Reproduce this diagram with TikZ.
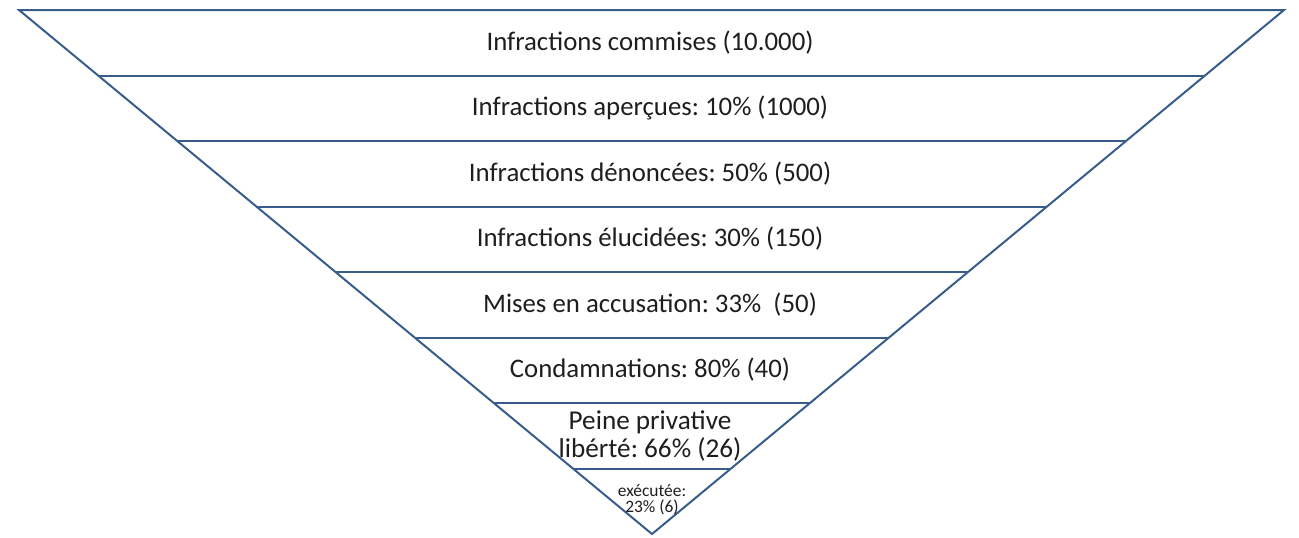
\documentclass[tikz,border=0pt]{standalone}
\usepackage{fontspec}
\setmainfont{Carlito}
\usetikzlibrary{calc}
\definecolor{funnelblue}{RGB}{56,93,138}
\definecolor{labelgray}{RGB}{30,30,30}
\frenchspacing

\begin{document}
\begin{tikzpicture}[x=0.5pt,y=-0.5pt,
	band/.style={draw=funnelblue,line width=1pt},
	level/.style={text=labelgray,inner sep=0pt,align=center,font=\fontsize{13.4}{15}\selectfont}]
	\useasboundingbox (0,0) rectangle (1299,537);
	\coordinate (tl) at (19,10);
	\coordinate (tr) at (1284,10);
	\coordinate (apex) at (652,534);
	% funnel outline and bands
	\draw[band,line join=miter] (tl) -- (tr) -- (apex) -- cycle;
	\foreach \i in {1,...,7} {
		\draw[band] ($(tl)!\i/8!(apex)$) -- ($(tr)!\i/8!(apex)$);
	}
	% labels
	\node[level] (commises) at (650,43) {Infractions commises (10.000)};
	\node[level] (apercues) at (650,108) {Infractions aperçues: 10\% (1000)};
	\node[level] (denoncees) at (650,174) {Infractions dénoncées: 50\% (500)};
	\node[level] (elucidees) at (650,239) {Infractions élucidées: 30\% (150)};
	\node[level] (accusation) at (650,305) {Mises en accusation: 33\%\ \ (50)};
	\node[level] (condamnations) at (650,370) {Condamnations: 80\% (40)};
	\node[level,font=\fontsize{13.6}{14}\selectfont] (privative) at (650,436) {Peine privative\\libérté: 66\% (26)};
	\node[level,font=\fontsize{8.7}{8.2}\selectfont] (executee) at (652,500) {exécutée:\\23\% (6)};
\end{tikzpicture}
\end{document}
